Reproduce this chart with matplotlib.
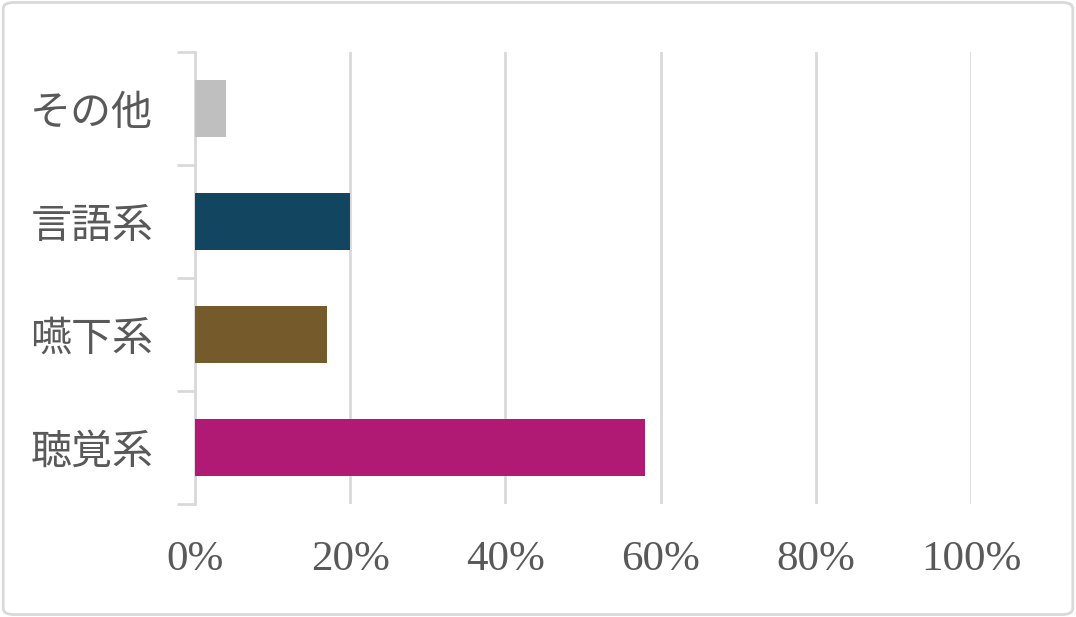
import matplotlib.pyplot as plt
from matplotlib.patches import FancyBboxPatch

# データ（下から上の順）
categories = ['聴覚系', '嚥下系', '言語系', 'その他']
values = [58, 17, 20, 4]
colors = ['#B01A74', '#755A2B', '#124660', '#BFBFBF']
xticks = [0, 20, 40, 60, 80, 100]

text_color = '#595959'
grid_color = '#D9D9D9'

fig = plt.figure(figsize=(10.76, 6.17), dpi=100)
ax = fig.add_axes([0.1812, 0.1831, 0.7212, 0.7326])

pos = list(range(len(categories)))
ax.barh(pos, values, height=0.5, color=colors, zorder=3)

ax.set_xlim(0, 100)
ax.set_ylim(-0.5, len(categories) - 0.5)

# x軸
ax.set_xticks(xticks)
ax.set_xticklabels([f'{v}%' for v in xticks], fontsize=31,
                   family='Liberation Serif', color=text_color)
ax.tick_params(axis='x', length=0, pad=26)
ax.grid(axis='x', color=grid_color, linewidth=2, zorder=0)

# y軸：目盛りはカテゴリの境界、ラベルは中央
ax.set_yticks([p - 0.5 for p in pos] + [len(categories) - 0.5])
ax.set_yticklabels([])
ax.tick_params(axis='y', which='major', length=13, width=2, color=grid_color)
ax.set_yticks(pos, minor=True)
ax.set_yticklabels(categories, minor=True, fontsize=29.5,
                   family=['Noto Sans CJK JP', 'DejaVu Sans'], color=text_color)
ax.tick_params(axis='y', which='minor', length=0, pad=30)

for s in ['top', 'right', 'bottom']:
    ax.spines[s].set_visible(False)
ax.spines['left'].set_color(grid_color)
ax.spines['left'].set_linewidth(2)

# 外枠
border = FancyBboxPatch((0.003, 0.004), 0.994, 0.992,
                        boxstyle='round,pad=0,rounding_size=0.01',
                        transform=fig.transFigure, fill=False,
                        edgecolor=grid_color, linewidth=2)
fig.patches.append(border)

fig.savefig('out.png', dpi=100)
